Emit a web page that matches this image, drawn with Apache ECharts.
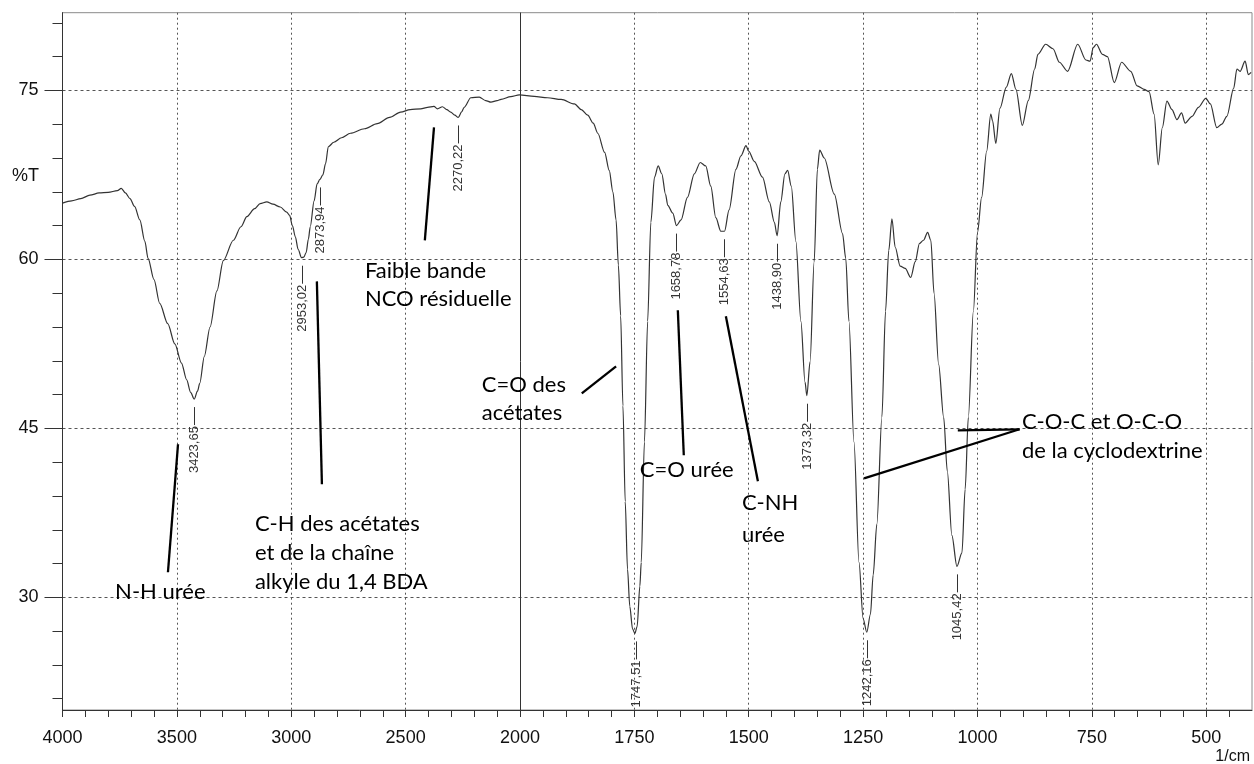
<!DOCTYPE html>
<html><head><meta charset="utf-8">
<script src="https://cdn.jsdelivr.net/npm/echarts@6/dist/echarts.min.js"></script>
<style>html,body{margin:0;padding:0;background:#fff}#c{width:1254px;height:764px}</style>
</head><body><div id="c"></div>
<script>
// ---- spectrum data (wavenumber in 1/cm, transmittance in %T) ----
const wavenumbers = [4000,3960,3920,3880,3840,3800,3760,3743,3725,3705,3685,3662,3640,3626,3600,3575,3540,3509,3480,3457,3440,3424,3410,3400,3380,3355,3325,3297,3253,3220,3194,3160,3136,3107,3080,3048,3020,3007,2995,2982,2970,2955,2945,2935,2925,2917,2900,2887,2875,2862,2850,2838,2814,2780,2741,2680,2624,2570,2522,2480,2434,2404,2376,2361,2339,2320,2303,2285,2270,2255,2244,2215,2178,2150,2127,2100,2083,2040,2003,1969,1940,1910,1881,1866,1852,1840,1830,1815,1805,1797,1790,1785,1780,1775,1770,1765,1760,1754,1749,1744,1738,1735,1728,1721,1714,1706,1698,1690,1682,1677,1666,1658,1648,1634,1619,1606,1594,1583,1572,1561,1553,1543,1528,1517,1506,1500,1488,1470,1455,1444,1438,1430,1421,1415,1407,1397,1386,1377,1373,1366,1357,1350,1345,1335,1313,1295,1288,1281,1270,1259,1250,1242,1234,1228,1220,1209,1201,1194,1187,1180,1169,1158,1146,1136,1127,1118,1109,1102,1095,1085,1074,1066,1056,1045,1034,1027,1020,1009,1000,991,980,971,967,960,951,937,926,916,902,889,875,868,851,835,821,803,781,763,754,747,740,727,716,701,685,665,651,636,625,614,605,596,586,575,564,554,546,531,517,501,491,477,466,455,440,433,426,415,408,402];
const transmittance = [65.0,65.2,65.4,65.7,65.9,65.95,66.1,66.3,65.9,65.4,64.7,63.5,61.6,60.1,58.2,56.1,54.3,52.5,50.8,49.3,48.2,47.6,48.3,49.0,51.4,54.0,57.2,59.9,61.7,62.9,63.8,64.5,64.95,65.1,64.9,64.65,64.2,63.9,63.0,62.0,60.9,60.15,60.2,60.6,61.8,62.9,65.2,66.7,67.1,67.5,68.5,70.0,70.4,70.8,71.2,71.6,72.05,72.6,73.07,73.3,73.37,73.5,73.58,73.37,73.55,73.3,73.07,72.8,72.6,73.1,73.5,74.35,74.4,74.1,73.96,74.1,74.2,74.45,74.6,74.47,74.35,74.2,73.8,73.3,72.8,72.1,71.2,69.5,67.9,66.0,63.5,59.5,55.0,47.0,38.5,32.5,29.2,27.2,26.8,27.4,31.0,33.1,43.8,54.5,63.3,67.3,68.3,67.6,65.8,64.8,64.1,63.0,63.5,65.5,67.6,68.6,68.3,66.5,63.7,62.5,62.5,64.4,68.0,69.2,70.1,69.6,68.7,67.3,65.1,63.3,62.1,65.1,67.6,67.9,66.5,61.6,54.5,49.1,47.9,50.9,59.8,68.0,69.7,69.0,65.8,62.3,60.1,54.5,43.8,33.1,28.1,26.9,28.5,32.0,36.5,46.0,55.4,60.8,63.6,61.1,59.4,59.2,58.4,59.8,61.4,61.7,62.4,61.7,57.0,50.7,46.0,41.2,35.5,32.75,33.95,39.6,46.0,55.4,62.4,65.5,69.6,72.9,72.3,70.3,73.4,75.3,76.5,75.1,71.9,74.1,76.9,78.2,79.1,78.7,77.5,76.7,79.1,77.7,77.6,78.8,79.1,78.2,78.0,75.7,77.5,76.7,75.4,75.1,74.9,72.9,68.4,71.7,74.05,73.3,72.4,73.0,72.1,72.7,73.5,74.3,73.8,71.7,72.0,72.7,75.2,76.9,76.7,77.6,76.4,76.6];

// ---- axis ticks ----
const xTickLabels = [4000,3500,3000,2500,2000,1750,1500,1250,1000,750,500];
const yTickLabels = [30,45,60,75];
const xMinorStepHigh = 100, xMinorStepLow = 50, yMinorStep = 3;

// ---- peak labels ----
const peakWavenumbers = [3423.65,2953.02,2873.94,2270.22,1747.51,1658.78,1554.63,1438.90,1373.32,1242.16,1045.42];
const peakTransmittance = [47.6,60.15,67.1,72.6,26.8,63.0,62.5,62.1,47.9,26.9,32.75];

// ---- text notes (left edge wavenumber, %T of line centre) ----
const noteTexts = ["Faible bande","NCO résiduelle","C=O des","acétates","N-H urée","C-H des acétates","et de la chaîne","alkyle du 1,4 BDA","C=O urée","C-NH","urée","C-O-C et O-C-O","de la cyclodextrine"];
const noteWavenumbers = [2678,2678,2167,2167,3770,3159,3159,3159,1738,1515,1515,903,903];
const noteTransmittance = [58.94,56.45,48.82,46.4,30.46,36.49,33.92,31.34,41.28,38.35,35.51,45.6,42.97];

// ---- pointer lines (from -> to, wavenumber / %T) ----
const pointerFromWn = [3495,2888,2376,1865,1655,1550,1043,908];
const pointerFromT  = [43.59,58.05,71.72,48.11,55.48,54.95,44.83,44.92];
const pointerToWn   = [3539,2866,2416,1790,1642,1480,908,1248];
const pointerToT    = [32.23,40.04,61.69,50.51,42.61,40.31,44.92,40.57];

// Piecewise scale of the spectrometer: 500 cm-1 per division above 2000, 250 below.
function toU(w){ return w >= 2000 ? (4000 - w) / 500 : 4 + (2000 - w) / 250; }
function toW(u){ return u <= 4 ? 4000 - 500 * u : 2000 - 250 * (u - 4); }

const xMajor = xTickLabels.map(toU);
const xMinor = [];
for (let w = 4000; w > 2000; w -= xMinorStepHigh) xMinor.push(toU(w));
for (let w = 2000; w >= 450; w -= xMinorStepLow) xMinor.push(toU(w));
const yMinor = [];
for (let v = 21; v <= 81; v += yMinorStep) yMinor.push(v);

const U_MAX = toU(400);
const Y_MIN = 20, Y_MAX = 81.9;

const spectrum = wavenumbers.map((w, i) => [toU(w), transmittance[i]]);
const LBL = '"Liberation Sans", Arial, sans-serif';
const NOTE = '22px Lato, "Open Sans", sans-serif';

const chart = echarts.init(document.getElementById('c'), null, {renderer: 'canvas'});
chart.setOption({
  animation: false,
  backgroundColor: '#fff',
  grid: {left: 62.5, right: 2, top: 12.7, bottom: 54, show: true, borderColor: '#8a8a8a', borderWidth: 1},
  xAxis: [{
    type: 'value', min: 0, max: U_MAX,
    axisLine: {show: true, onZero: false, lineStyle: {color: '#333', width: 1}},
    axisTick: {show: true, customValues: xMajor, length: 7, lineStyle: {color: '#333'}},
    axisLabel: {customValues: xMajor, formatter: v => String(Math.round(toW(v))), margin: 19,
      fontFamily: LBL, fontSize: 18, color: '#111'},
    splitLine: {show: true, lineStyle: {color: '#555', type: [2, 3], width: 1}}
  }, {
    type: 'value', min: 0, max: U_MAX, position: 'bottom',
    axisLine: {show: false}, axisLabel: {show: false}, splitLine: {show: false},
    axisTick: {show: true, customValues: xMinor, length: 7, lineStyle: {color: '#333'}}
  }],
  yAxis: [{
    type: 'value', min: Y_MIN, max: Y_MAX,
    axisLine: {show: true, onZero: false, lineStyle: {color: '#333', width: 1}},
    axisTick: {show: true, customValues: yTickLabels, length: 18, lineStyle: {color: '#333'}},
    axisLabel: {customValues: yTickLabels, margin: 24, fontFamily: LBL, fontSize: 18, color: '#111'},
    splitLine: {show: true, lineStyle: {color: '#555', type: [3, 3], width: 1}}
  }, {
    type: 'value', min: Y_MIN, max: Y_MAX, position: 'left',
    axisLine: {show: false}, axisLabel: {show: false}, splitLine: {show: false},
    axisTick: {show: true, customValues: yMinor, length: 10, lineStyle: {color: '#333'}}
  }],
  graphic: [
    {type: 'text', left: 12, top: 167, style: {text: '%T', font: '18px ' + LBL, fill: '#111'}},
    {type: 'text', right: 4, top: 749, style: {text: '1/cm', font: '16px ' + LBL, fill: '#111'}}
  ],
  series: [{
    type: 'line', data: spectrum, showSymbol: false, smooth: 0.3, smoothMonotone: 'x',
    lineStyle: {color: '#333', width: 1.2}, z: 3,
    markLine: {silent: true, symbol: 'none', label: {show: false},
      lineStyle: {color: '#333', type: 'solid', width: 1},
      data: [{xAxis: toU(2000)}]}
  }, {
    type: 'custom', coordinateSystem: 'cartesian2d', z: 4,
    data: peakWavenumbers.map((w, i) => [toU(w), peakTransmittance[i], i]),
    renderItem: (params, api) => {
      const p = api.coord([api.value(0), api.value(1)]);
      const i = api.value(2);
      const x = Math.round(p[0]) + 0.5, y0 = p[1] + 8, y1 = y0 + 18;
      return {type: 'group', children: [
        {type: 'line', shape: {x1: x, y1: y0, x2: x, y2: y1}, style: {stroke: '#333', lineWidth: 1}},
        {type: 'text', x: x, y: y1 + 1, rotation: Math.PI / 2,
          style: {text: peakWavenumbers[i].toFixed(2).replace('.', ','), align: 'right', verticalAlign: 'middle',
            font: '13px ' + LBL, fill: '#333'}}
      ]};
    }
  }, {
    type: 'custom', coordinateSystem: 'cartesian2d', z: 5,
    data: pointerFromWn.map((w, i) => [toU(w), pointerFromT[i], toU(pointerToWn[i]), pointerToT[i]]),
    renderItem: (params, api) => {
      const a = api.coord([api.value(0), api.value(1)]);
      const b = api.coord([api.value(2), api.value(3)]);
      return {type: 'line', shape: {x1: a[0], y1: a[1], x2: b[0], y2: b[1]},
        style: {stroke: '#000', lineWidth: 2.3}};
    }
  }, {
    type: 'custom', coordinateSystem: 'cartesian2d', z: 6,
    data: noteWavenumbers.map((w, i) => [toU(w), noteTransmittance[i], i]),
    renderItem: (params, api) => {
      const p = api.coord([api.value(0), api.value(1)]);
      return {type: 'text', x: p[0], y: p[1],
        style: {text: noteTexts[api.value(2)], align: 'left', verticalAlign: 'middle', font: NOTE, fill: '#000'}};
    }
  }]
});
</script></body></html>
